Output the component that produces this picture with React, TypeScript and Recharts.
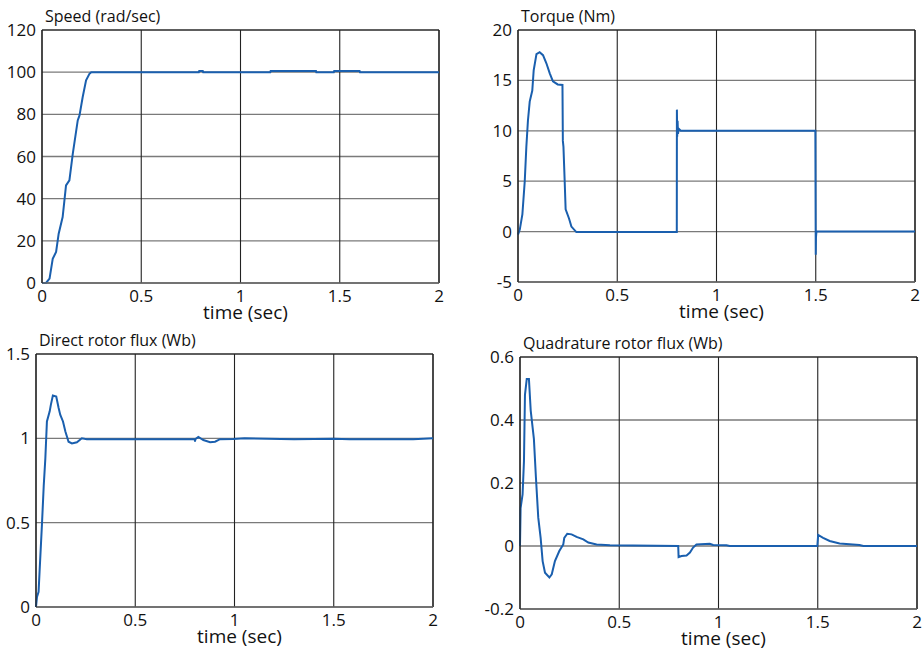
import React from "react";
import {
  LineChart,
  Line,
  XAxis,
  YAxis,
  CartesianGrid,
  ReferenceLine,
} from "recharts";

const timeTicks = [0, 0.5, 1, 1.5, 2];

// speed (rad/sec)
const speedTime = [0, 0.004, 0.02, 0.038, 0.054, 0.071, 0.084, 0.104, 0.113, 0.121, 0.138, 0.155, 0.18, 0.189, 0.205, 0.222, 0.239, 0.248, 0.79, 0.792, 0.81, 0.812, 1.15, 1.152, 1.38, 1.382, 1.47, 1.472, 1.6, 1.602, 2];
const speedValues = [0, 0, 0, 2.1, 11.5, 14.7, 23.4, 31.3, 39.2, 46.3, 48.7, 61.3, 77.1, 79.5, 88.2, 96.1, 99.2, 100, 100, 100.5, 100.5, 100, 100, 100.6, 100.6, 100, 100, 100.5, 100.5, 100, 100];
const speedTicks = [0, 20, 40, 60, 80, 100, 120];

// torque (Nm)
const torqueTime = [0, 0.009, 0.022, 0.034, 0.042, 0.05, 0.059, 0.072, 0.079, 0.093, 0.109, 0.126, 0.143, 0.16, 0.176, 0.2, 0.224, 0.226, 0.229, 0.235, 0.24, 0.257, 0.269, 0.294, 0.8, 0.8005, 0.802, 0.804, 0.806, 0.81, 0.82, 1.498, 1.5, 1.501, 1.503, 1.506, 2];
const torqueValues = [-0.3, 0.2, 1.7, 5, 8.4, 11, 12.9, 14, 16, 17.6, 17.8, 17.5, 16.7, 15.7, 14.9, 14.6, 14.55, 9, 8.4, 5.1, 2.2, 1.3, 0.5, -0.05, -0.05, 12.1, 9.4, 11, 9.7, 10.2, 10, 10, -2.3, -0.6, -0.1, 0, 0];
const torqueTicks = [-5, 0, 5, 10, 15, 20];

// direct rotor flux (Wb)
const fluxDTime = [0, 0.005, 0.013, 0.018, 0.03, 0.039, 0.047, 0.055, 0.069, 0.075, 0.085, 0.102, 0.114, 0.122, 0.136, 0.148, 0.164, 0.181, 0.206, 0.231, 0.256, 0.8, 0.801, 0.803, 0.818, 0.843, 0.877, 0.902, 0.927, 0.994, 1.05, 1.3, 1.5, 1.58, 1.9, 2];
const fluxDValues = [0, 0.06, 0.09, 0.21, 0.49, 0.72, 0.88, 1.1, 1.16, 1.2, 1.254, 1.248, 1.18, 1.14, 1.1, 1.04, 0.98, 0.97, 0.977, 1.0, 0.995, 0.995, 0.98, 0.995, 1.008, 0.99, 0.977, 0.98, 0.995, 0.996, 1.0, 0.995, 0.998, 0.995, 0.995, 1.0];
const fluxDTicks = [0, 0.5, 1, 1.5];

// quadrature rotor flux (Wb)
const fluxQTime = [0, 0.003, 0.013, 0.02, 0.025, 0.034, 0.045, 0.054, 0.07, 0.08, 0.092, 0.104, 0.114, 0.126, 0.148, 0.16, 0.176, 0.198, 0.218, 0.223, 0.238, 0.26, 0.285, 0.319, 0.344, 0.386, 0.453, 0.797, 0.799, 0.814, 0.839, 0.856, 0.872, 0.889, 0.956, 0.973, 1.04, 1.057, 1.498, 1.502, 1.527, 1.56, 1.61, 1.71, 1.73, 2];
const fluxQValues = [0, 0.12, 0.164, 0.27, 0.48, 0.53, 0.53, 0.43, 0.34, 0.22, 0.09, 0.026, -0.048, -0.085, -0.1, -0.09, -0.048, -0.016, 0.005, 0.026, 0.039, 0.037, 0.029, 0.021, 0.011, 0.005, 0.002, 0, -0.035, -0.032, -0.03, -0.021, -0.005, 0.005, 0.007, 0.003, 0.002, 0, 0, 0.035, 0.026, 0.016, 0.008, 0.003, 0, 0];
const fluxQTicks = [-0.2, 0, 0.2, 0.4, 0.6];

const font = "'Open Sans', sans-serif";
const lineColor = "#1a5fae";

type PanelProps = {
  title: string;
  time: number[];
  values: number[];
  yTicks: number[];
  box: { x: number; y: number; w: number; h: number };
  plot: { l: number; t: number; r: number; b: number };
  yWidth: number;
};

function Panel({ title, time, values, yTicks, box, plot, yWidth }: PanelProps) {
  const data = time.map((t, i) => ({ t, v: values[i] }));
  const xH = 40;
  const margin = {
    top: plot.t - box.y,
    left: plot.l - box.x - yWidth,
    right: box.x + box.w - plot.r,
    bottom: box.y + box.h - plot.b - xH,
  };
  const yMin = yTicks[0];
  const yMax = yTicks[yTicks.length - 1];
  return (
    <div style={{ position: "absolute", left: box.x, top: box.y, width: box.w, height: box.h }}>
      <div
        style={{
          position: "absolute",
          left: plot.l - box.x + 3,
          top: plot.t - box.y - 25,
          fontFamily: font,
          fontSize: 16,
          color: "#111",
          whiteSpace: "nowrap",
        }}
      >
        {title}
      </div>
      <LineChart width={box.w} height={box.h} data={data} margin={margin}>
        <CartesianGrid vertical={false} stroke="#7a7a7a" strokeWidth={1.3} />
        <CartesianGrid horizontal={false} stroke="#222" strokeWidth={1.1} />
        <XAxis
          dataKey="t"
          type="number"
          domain={[0, 2]}
          ticks={timeTicks}
          height={xH}
          tickLine={false}
          tickSize={4}
          tickMargin={3}
          axisLine={{ stroke: "#666", strokeWidth: 1.3 }}
          tick={{ fill: "#111", fontSize: 17, fontFamily: font }}
          label={{ value: "time (sec)", position: "insideBottom", offset: 4, dx: 5, fill: "#111", fontSize: 19, fontFamily: font }}
        />
        <YAxis
          type="number"
          domain={[yMin, yMax]}
          ticks={yTicks}
          width={yWidth}
          tickLine={false}
          tickSize={4}
          tickMargin={2}
          axisLine={{ stroke: "#222", strokeWidth: 1.2 }}
          tick={{ fill: "#111", fontSize: 17, fontFamily: font }}
        />
        <ReferenceLine y={yMax} stroke="#222" strokeWidth={1.2} />
        <ReferenceLine x={2} stroke="#222" strokeWidth={1.2} />
        <Line
          type="linear"
          dataKey="v"
          stroke={lineColor}
          strokeWidth={2}
          dot={false}
          isAnimationActive={false}
        />
      </LineChart>
    </div>
  );
}

export default function App() {
  return (
    <div style={{ position: "absolute", left: 0, top: 0, width: 923, height: 653, background: "#fff" }}>
      <Panel
        title="Speed (rad/sec)"
        time={speedTime}
        values={speedValues}
        yTicks={speedTicks}
        box={{ x: 0, y: 0, w: 460, h: 325 }}
        plot={{ l: 42, t: 30, r: 439, b: 283 }}
        yWidth={40}
      />
      <Panel
        title="Torque (Nm)"
        time={torqueTime}
        values={torqueValues}
        yTicks={torqueTicks}
        box={{ x: 460, y: 0, w: 463, h: 325 }}
        plot={{ l: 518, t: 30, r: 915, b: 282 }}
        yWidth={50}
      />
      <Panel
        title="Direct rotor flux (Wb)"
        time={fluxDTime}
        values={fluxDValues}
        yTicks={fluxDTicks}
        box={{ x: 0, y: 325, w: 460, h: 328 }}
        plot={{ l: 36, t: 354, r: 433, b: 607 }}
        yWidth={34}
      />
      <Panel
        title="Quadrature rotor flux (Wb)"
        time={fluxQTime}
        values={fluxQValues}
        yTicks={fluxQTicks}
        box={{ x: 460, y: 325, w: 463, h: 328 }}
        plot={{ l: 520, t: 357, r: 917, b: 609 }}
        yWidth={52}
      />
    </div>
  );
}
